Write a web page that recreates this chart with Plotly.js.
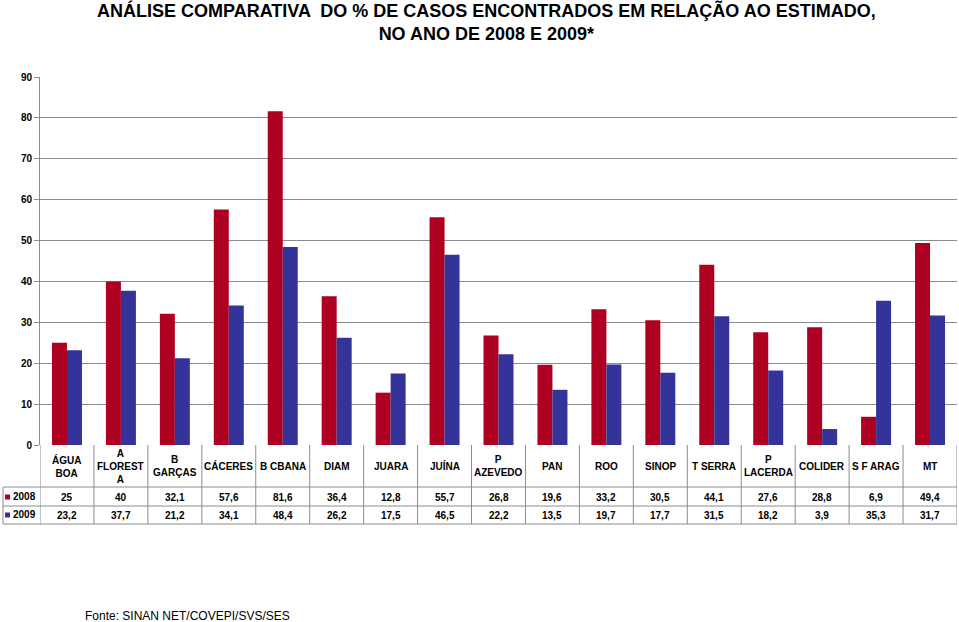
<!DOCTYPE html>
<html><head><meta charset="utf-8">
<script src="https://cdn.plot.ly/plotly-3.0.1.min.js"></script>
<style>body{margin:0;background:#fff}#c{width:959px;height:622px}</style>
</head><body><div id="c"></div>
<script>
const categories = ["ÁGUA<br>BOA","A<br>FLOREST<br>A","B<br>GARÇAS","CÁCERES","B CBANA","DIAM","JUARA","JUÍNA","P<br>AZEVEDO","PAN","ROO","SINOP","T SERRA","P<br>LACERDA","COLIDER","S F ARAG","MT"];
const values2008 = [25,40,32.1,57.6,81.6,36.4,12.8,55.7,26.8,19.6,33.2,30.5,44.1,27.6,28.8,6.9,49.4];
const values2009 = [23.2,37.7,21.2,34.1,48.4,26.2,17.5,46.5,22.2,13.5,19.7,17.7,31.5,18.2,3.9,35.3,31.7];
const seriesNames = ["2008","2009"];
const yTicks = [0,10,20,30,40,50,60,70,80,90];

const RED = "#AE0020", BLUE = "#333399";
const W = 959, H = 622, L = 40, R = 2, T = 77, B = 177;
const PW = W - L - R, PH = H - T - B;
const py = p => (T + PH - p) / PH;   // pixel y -> paper y
const px = p => (p - L) / PW;        // pixel x -> paper x
const fmt = v => String(v).replace('.', ',');
const idx = categories.map((_, i) => i);
const FONT = '"Liberation Sans", Arial, sans-serif';

const traces = [
  {type:'bar', x: idx, y: values2008, name: seriesNames[0], marker:{color:RED}, hoverinfo:'y'},
  {type:'bar', x: idx, y: values2009, name: seriesNames[1], marker:{color:BLUE}, hoverinfo:'y'}
];

const lineC = "#8c8c8c";
const shapes = [];
const annotations = [];
const n = categories.length;
const yH = py(445), y1 = py(487), y2 = py(506), y3 = py(524);
[y1, y2, y3].forEach(yy => shapes.push({type:'line', xref:'paper', yref:'paper', x0:px(3), x1:1, y0:yy, y1:yy, line:{color:lineC, width:1}}));
shapes.push({type:'line', xref:'paper', yref:'paper', x0:px(3), x1:px(3), y0:y1, y1:y3, line:{color:lineC, width:1}});
for (let i = 0; i <= n; i++) {
  shapes.push({type:'line', xref:'x', yref:'paper', x0:i-0.5, x1:i-0.5, y0:yH, y1:y3, line:{color:lineC, width:1}});
}
[[RED, 497],[BLUE, 515]].forEach(([c, yy]) => {
  shapes.push({type:'rect', xref:'paper', yref:'paper', x0:px(5), x1:px(10), y0:py(yy+2.5), y1:py(yy-2.5), fillcolor:c, line:{width:0}});
});
const tf = {family:FONT, size:10, color:'#000'};
categories.forEach((c, i) => {
  annotations.push({xref:'x', yref:'paper', x:i, y:py(466), text:'<b>'+c+'</b>', showarrow:false, font:tf, xanchor:'center', yanchor:'middle'});
  annotations.push({xref:'x', yref:'paper', x:i, y:py(497), text:'<b>'+fmt(values2008[i])+'</b>', showarrow:false, font:tf, xanchor:'center', yanchor:'middle'});
  annotations.push({xref:'x', yref:'paper', x:i, y:py(515), text:'<b>'+fmt(values2009[i])+'</b>', showarrow:false, font:tf, xanchor:'center', yanchor:'middle'});
});
seriesNames.forEach((s, k) => {
  annotations.push({xref:'paper', yref:'paper', x:px(11), y:py(k ? 514 : 496), text:'<b>'+s+'</b>', showarrow:false, font:tf, xanchor:'left', yanchor:'middle'});
});
annotations.push({xref:'paper', yref:'paper', x:px(83), y:py(616), text:'Fonte: SINAN NET/COVEPI/SVS/SES', showarrow:false, font:{family:FONT, size:12, color:'#000'}, xanchor:'left', yanchor:'middle'});
annotations.push({xref:'paper', yref:'paper', x:px(486), y:py(22), text:'<b>ANÁLISE COMPARATIVA  DO % DE CASOS ENCONTRADOS EM RELAÇÃO AO ESTIMADO,<br>NO ANO DE 2008 E 2009*</b>', showarrow:false, font:{family:FONT, size:18, color:'#000'}, xanchor:'center', yanchor:'middle'});

const layout = {
  width: W, height: H,
  margin: {l:L, r:R, t:T, b:B, pad:0},
  paper_bgcolor:'#fff', plot_bgcolor:'#fff',
  showlegend:false,
  barmode:'group', bargap:0.444, bargroupgap:0,
  xaxis:{range:[-0.5, n-0.5], showticklabels:false, showgrid:false, zeroline:false, showline:false, ticks:'', fixedrange:true},
  yaxis:{range:[0,90], tickvals:yTicks, showgrid:true, gridcolor:lineC, gridwidth:1, zeroline:false,
         showline:true, linecolor:lineC, ticks:'outside', ticklen:5, tickcolor:lineC,
         tickfont:{family:FONT, size:10, color:'#000', weight:'bold'}, fixedrange:true},
  shapes, annotations
};
Plotly.newPlot('c', traces, layout, {displayModeBar:false, staticPlot:true});
</script></body></html>
